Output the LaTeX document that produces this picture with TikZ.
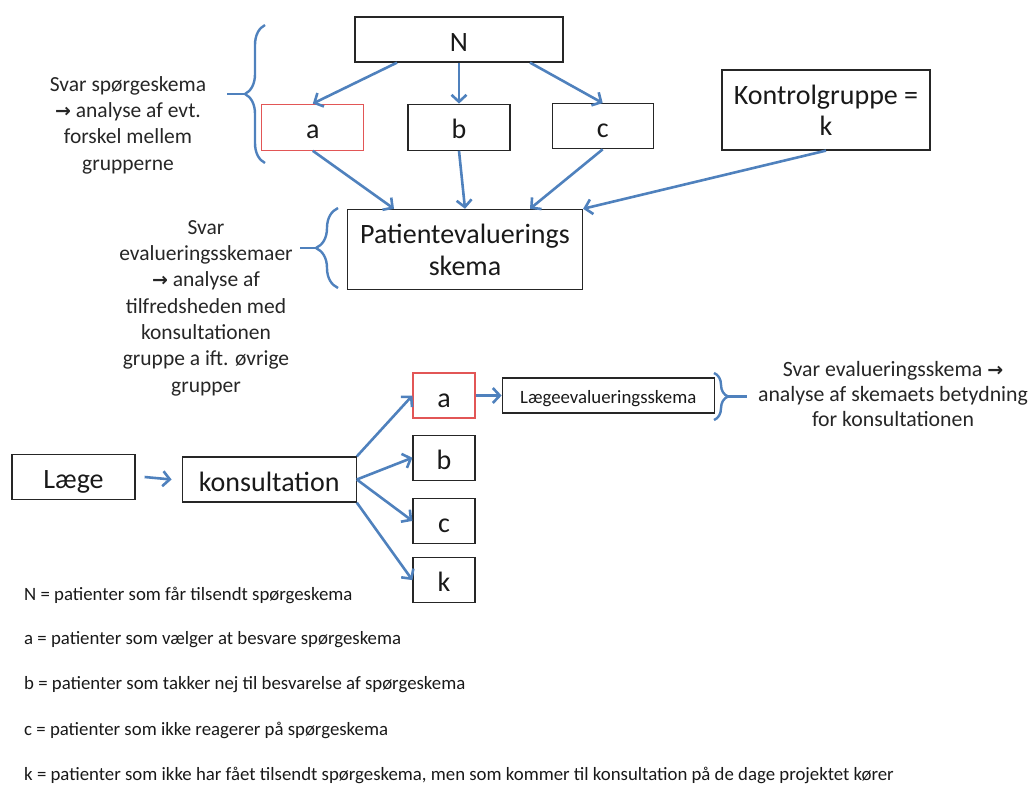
\documentclass[tikz,border=0pt]{standalone}
\usepackage{fontspec}
\setmainfont{Carlito}
\newfontfamily\arrowfont{DejaVu Sans}
\usetikzlibrary{positioning, arrows.meta, decorations.pathreplacing}
\definecolor{linkblue}{RGB}{79,129,189}
\definecolor{boxred}{RGB}{226,86,86}
\newcommand{\gotoarrow}{{\arrowfont\bfseries\fontsize{19}{20}\selectfont →}}

\begin{document}
\begin{tikzpicture}[x=1pt, y=1pt,
    plain box/.style={draw=black!85, line width=1.2pt, inner sep=0pt, align=center, text=black!90, font=\fontsize{28}{32}\selectfont},
    one line/.style={text height=#1, text depth=0pt},
    one line/.default=23pt,
    red box/.style={plain box, draw=boxred},
    link/.style={-{Straight Barb[length=7pt, width=15pt]}, draw=linkblue, line width=2.6pt},
    curly/.style={draw=linkblue, line width=2.4pt, decorate, decoration={brace, amplitude=#1}},
    side text/.style={align=center, text=black!85, font=\fontsize{21.5}{26.3}\selectfont},
    legend text/.style={inner sep=0pt, text=black!90, font=\fontsize{18.8}{22}\selectfont}]
    \useasboundingbox (0,0) rectangle (1032,-785);

    \node (N box) at (459,-39.5) [plain box, one line, minimum width=208pt, minimum height=45pt] {N};
    \node[below=41pt of N box] (b box) [plain box, one line, minimum width=102pt, minimum height=46pt] {b};
    \node[left=43pt of b box] (a box) [red box, one line, minimum width=102pt, minimum height=46pt] {a};
    \node[right=41pt of b box, yshift=1pt] (c box) [plain box, one line, minimum width=101pt, minimum height=45pt] {c};

    \node (k box) at (826,-110) [plain box, minimum width=208pt, minimum height=80pt, font=\fontsize{28}{31}\selectfont] {Kontrolgruppe =\\k};
    \node[below=58pt of b box, xshift=6pt] (patient box) [plain box, minimum width=235pt, minimum height=80pt] {Patientevaluerings\\skema};

    \draw[link] ([xshift=-62pt]N box.south) -- (a box.north);
    \draw[link] (N box.south) -- (b box.north);
    \draw[link] ([xshift=71pt]N box.south) -- (c box.north);

    \draw[link] (a box.south) -- ([xshift=-71pt]patient box.north);
    \draw[link] (b box.south) -- (patient box.north);
    \draw[link] (c box.south) -- ([xshift=65pt]patient box.north);
    \draw[link] (k box.south) -- (patient box.north east);

    \node (svar top) at (128,-125) [side text] {Svar spørgeskema\\\gotoarrow{} analyse af evt.\\forskel mellem\\grupperne};
    \draw[curly=20pt] (265,-163) -- (265,-25);
    \draw[draw=linkblue, line width=2.4pt] (245,-94) -- (227,-94);

    \node (svar patient) at (206,-308) [side text] {Svar\\evalueringsskemaer\\\gotoarrow{} analyse af\\tilfredsheden med\\konsultationen\\gruppe a ift. øvrige\\grupper};
    \draw[curly=22pt] (338,-288) -- (338,-208);
    \draw[draw=linkblue, line width=2.4pt] (316,-248) -- (300,-248);

    \node (laege box) at (73.5,-477) [plain box, one line, minimum width=123pt, minimum height=45pt] {Læge};
    \node[right=46pt of laege box, yshift=-2.5pt] (konsult box) [plain box, one line, minimum width=174pt, minimum height=45pt] {konsultation};
    \draw[link] ([xshift=9pt]laege box.east) -- ([xshift=-10pt]konsult box.west);

    \node (a2 box) at (444,-395.5) [red box, one line, minimum width=62pt, minimum height=45pt] {a};
    \node[below=16pt of a2 box] (b2 box) [plain box, one line, minimum width=62pt, minimum height=45pt] {b};
    \node[below=17pt of b2 box] (c2 box) [plain box, one line, minimum width=62pt, minimum height=45pt] {c};
    \node[below=13pt of c2 box] (k2 box) [plain box, one line, minimum width=62pt, minimum height=45pt] {k};

    \draw[link] (konsult box.north east) -- (a2 box.west);
    \draw[link] (konsult box.east) -- (b2 box.west);
    \draw[link] (konsult box.east) -- (c2 box.west);
    \draw[link] (konsult box.south east) -- (k2 box.west);

    \node[right=26pt of a2 box] (skema box) [plain box, one line=15pt, minimum width=212pt, minimum height=35pt, font=\fontsize{18.8}{20}\selectfont] {Lægeevalueringsskema};
    \draw[link] (a2 box.east) -- (skema box.west);

    \draw[curly=14pt] (714,-373) -- (714,-420);
    \draw[draw=linkblue, line width=2.4pt] (728,-396.5) -- (747,-396.5);
    \node (svar laege) at (893,-394) [side text, font=\fontsize{21.8}{25}\selectfont] {Svar evalueringsskema \gotoarrow\\analyse af skemaets betydning\\for konsultationen};

    \node (leg N) at (24,-595) [legend text, anchor=west] {N = patienter som får tilsendt spørgeskema};
    \node[below=45pt of leg N.west, anchor=west] (leg a) [legend text] {a = patienter som vælger at besvare spørgeskema};
    \node[below=45pt of leg a.west, anchor=west] (leg b) [legend text] {b = patienter som takker nej til besvarelse af spørgeskema};
    \node[below=45pt of leg b.west, anchor=west] (leg c) [legend text] {c = patienter som ikke reagerer på spørgeskema};
    \node[below=45pt of leg c.west, anchor=west] (leg k) [legend text] {k = patienter som ikke har fået tilsendt spørgeskema, men som kommer til konsultation på de dage projektet kører};
\end{tikzpicture}
\end{document}
